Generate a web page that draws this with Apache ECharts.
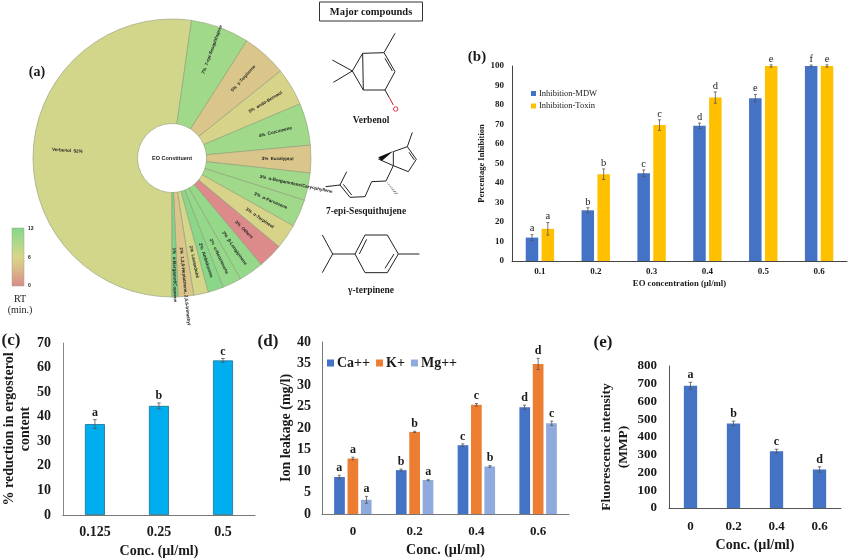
<!DOCTYPE html>
<html><head><meta charset="utf-8">
<style>html,body{margin:0;padding:0;background:#fff}#c{width:850px;height:559px}</style>
<script src="https://cdn.jsdelivr.net/npm/echarts@6/dist/echarts.min.js"></script>
</head><body><div id="c"></div>
<script>
// ---------- data ----------
const pieNames = ['Verbenol','7-epi-Sesquithujene','γ-Terpinene','endo-Borneol','Curcumene','Eucalyptol','α-Bergamotene/Caryophyllene','α-Farnesene','α-Terpineol','Others','β-Longipinene','α-Neoclovene','Ambiducene','Lavandulol','1,3,6-Heptatriene, 2,5,6-trimethyl','α-Bergamot/Copaene'];
const pieShare = [52.3,6.8,5.2,4.4,4.9,3.2,3.2,3.2,2.9,2.9,2.9,2.2,1.8,1.7,1.8,0.7];
const piePct   = [52,7,5,5,4,3,3,3,3,3,3,2,2,2,2,1];
const pieRT    = [6.8,10,4.2,6.2,10,4.2,10,10,6.2,0,11,11,12,6.6,4,13];

const bCats = ['0.1','0.2','0.3','0.4','0.5','0.6'];
const bMDW  = [12,26,45,69.3,83.5,100];
const bMDWErr = [1.5,1.3,1.7,1.4,1.9,0.5];
const bMDWLetters = ['a','b','c','d','e','f'];
const bToxin = [16.5,44.5,69.7,83.8,100,100];
const bToxinErr = [3.2,2.7,2.7,2.9,0.6,0.6];
const bToxinLetters = ['a','b','c','d','e','e'];

const cCats = ['0.125','0.25','0.5'];
const cVals = [37,44.4,62.9];
const cErr = [1.8,1.2,0.8];
const cLetters = ['a','b','c'];

const dCats = ['0','0.2','0.4','0.6'];
const dCa = [8.6,10.2,16,24.8];
const dCaErr = [0.4,0.25,0.3,0.5];
const dCaLetters = ['a','b','c','d'];
const dK = [12.9,19.1,25.4,34.9];
const dKErr = [0.3,0.15,0.3,1.3];
const dKLetters = ['a','b','c','d'];
const dMg = [3.3,7.9,11.05,21.1];
const dMgErr = [0.8,0.15,0.2,0.5];
const dMgLetters = ['a','a','b','c'];

const eCats = ['0','0.2','0.4','0.6'];
const eVals = [689,476,320,217];
const eErr = [19,13,11,15];
const eLetters = ['a','b','c','d'];

// ---------- style ----------
const SERIF = '"Liberation Serif","Times New Roman",serif';
const SANS = '"Liberation Sans",Arial,sans-serif';
const INK = '#1a1a1a';
const BLUE='#4472c4', GOLD='#ffc000', ORANGE='#ed7d31', LIGHT='#8faadc', SKY='#00aeef';

function errSeries(grid, values, errs, letters, off, cap, font, gap, weight){
  return {
    type:'custom', xAxisIndex:grid, yAxisIndex:grid, silent:true, clip:false, z:5,
    data: values.map((v,i)=>[i,v,errs[i]]),
    renderItem(p, api){
      const i=api.value(0), v=api.value(1), e=api.value(2);
      const a=api.coord([i,v-e]), b=api.coord([i,v+e]);
      const x=a[0]+off, st={stroke:'#555',lineWidth:0.8};
      return {type:'group',children:[
        {type:'line',shape:{x1:x,y1:a[1],x2:x,y2:b[1]},style:st},
        {type:'line',shape:{x1:x-cap,y1:b[1],x2:x+cap,y2:b[1]},style:st},
        {type:'line',shape:{x1:x-cap,y1:a[1],x2:x+cap,y2:a[1]},style:st},
        {type:'text',style:{x:x,y:b[1]-gap,text:letters[i],align:'center',verticalAlign:'bottom',
          fill:INK,font:weight+' '+font+'px '+SERIF}}
      ]};
    }
  };
}
function bar(grid,name,vals,color,width,gapStr,extra){
  return Object.assign({type:'bar',name,xAxisIndex:grid,yAxisIndex:grid,data:vals,barWidth:width,barGap:gapStr,
    itemStyle:{color},silent:true},extra||{});
}
function xAx(grid,cats,name,font,margin,nameFont,nameGap,lineColor,lw){
  return {type:'category',gridIndex:grid,data:cats,name,nameLocation:'middle',nameGap,
    nameTextStyle:{fontFamily:SERIF,fontWeight:'bold',fontSize:nameFont,color:INK},
    axisTick:{show:false},axisLine:{lineStyle:{color:lineColor,width:lw}},
    axisLabel:{interval:0,fontFamily:SERIF,fontWeight:'bold',fontSize:font,color:INK,margin}};
}
function yAx(grid,max,step,name,font,margin,nameFont,nameGap,lineColor,lw,pad,lh){
  return {type:'value',gridIndex:grid,min:0,max,interval:step,name,nameLocation:'middle',nameGap,
    nameTextStyle:{fontFamily:SERIF,fontWeight:'bold',fontSize:nameFont,color:INK,padding:pad||0,lineHeight:lh||undefined},
    splitLine:{show:false},axisTick:{show:false},
    axisLine:{show:true,lineStyle:{color:lineColor,width:lw}},
    axisLabel:{fontFamily:SERIF,fontWeight:'bold',fontSize:font,color:INK,margin}};
}

// ---------- chemical structure sketches (illustration, crop units) ----------
const SX=z=>300+z/3, SY=z=>z/3;
const bonds = [
  // verbenol
  [[188,160],[252,158],[285,215],[255,270],[190,270],[157,213],[188,160],[190,270]],
  [[252,158],[285,100]],[[157,213],[97,180]],[[157,213],[100,247]],[[255,175],[277,213]],[[255,270],[268,293]],
  // 7-epi-sesquithujene
  [[280,455],[322,440],[349,478],[325,515],[280,497],[280,455]],[[322,440],[337,397]],[[327,457],[343,480]],
  [[235,477],[280,497]],[[280,497],[258,543],[215,545],[195,590],[150,592],[120,555],[77,560]],[[120,555],[140,515]],[[130,553],[155,585]],
  // gamma-terpinene
  [[165,762],[195,705],[262,705],[295,762],[262,818],[195,818],[165,762]],[[178,762],[200,718]],[[282,762],[255,805]],
  [[295,762],[358,762]],[[165,762],[98,762],[67,705]],[[98,762],[67,818]]
];
const structureGraphics = bonds.map(b=>({type:'polyline',silent:true,shape:{points:b.map(p=>[SX(p[0]),SY(p[1])])},
  style:{stroke:'#222',lineWidth:1,fill:null}}));
structureGraphics.push(
  {type:'line',silent:true,shape:{x1:SX(268),y1:SY(293),x2:SX(280),y2:SY(315)},style:{stroke:'#d6202c',lineWidth:1}},
  {type:'circle',silent:true,shape:{cx:SX(287),cy:SY(327),r:2.2},style:{stroke:'#d6202c',lineWidth:0.9,fill:'#fff'}},
  {type:'polygon',silent:true,shape:{points:[[SX(280),SY(453)],[SX(235),SY(472)],[SX(245),SY(483)]]},style:{fill:'#111'}}
);
for(let i=0;i<7;i++){ const t=(i+1)/7, x=258+30*t, y=543+37*t, w=1+10*t;
  structureGraphics.push({type:'line',silent:true,shape:{x1:SX(x-w/2),y1:SY(y),x2:SX(x+w/2),y2:SY(y)},style:{stroke:'#222',lineWidth:0.5}});
}
const txt=(x,y,text,font,extra)=>({type:'text',silent:true,x,y,style:Object.assign({text,font,fill:INK,align:'center',verticalAlign:'middle'},extra||{})});
const CMP='bold 9.5px '+SERIF;
const graphics = [
  {type:'rect',silent:true,shape:{x:319.5,y:2,width:103,height:19},style:{stroke:'#333',lineWidth:1,fill:'#fff'}},
  txt(371,12,'Major compounds','bold 10.5px '+SERIF),
  txt(371,121,'Verbenol',CMP), txt(366,212,'7-epi-Sesquithujene',CMP), txt(371,291,'γ-terpinene',CMP),
  txt(37,72,'(a)','bold 14px '+SERIF), txt(477,57,'(b)','bold 15px '+SERIF), txt(11,341,'(c)','bold 17px '+SERIF), txt(268,342,'(d)','bold 17px '+SERIF), txt(603,343,'(e)','bold 17px '+SERIF),
  txt(172,158,'EO Constituent','bold 5.5px '+SANS),
  {type:'rect',silent:true,shape:{x:12,y:228,width:12,height:58},style:{stroke:'#9aa58a',lineWidth:0.5,
    fill:{type:'linear',x:0,y:0,x2:0,y2:1,colorStops:[{offset:0,color:'#84d68a'},{offset:0.3,color:'#b5d98a'},{offset:0.5,color:'#d9d688'},{offset:0.72,color:'#dcb88a'},{offset:1,color:'#d98a8a'}]}}},
  txt(28,229,'13','bold 5px '+SANS,{align:'left'}), txt(28,258,'6','bold 5px '+SANS,{align:'left'}), txt(28,286,'0','bold 5px '+SANS,{align:'left'}),
  txt(20,299,'RT','10px '+SERIF), txt(20,310,'(min.)','10px '+SERIF)
].concat(structureGraphics);

// ---------- option ----------
const pieData = pieNames.map((n,i)=>({name:n,value:[pieShare[i],pieRT[i]]}));
const series = [
 {type:'pie',center:[172,158],radius:[34.5,139],startAngle:270,clockwise:true,silent:true,
  dimensions:['share','rt'],encode:{value:'share',itemName:-1},
  data:pieData,minAngle:0,minShowLabelAngle:0,avoidLabelOverlap:false,
  itemStyle:{borderColor:'#8e9c78',borderWidth:0.6},
  label:{show:true,position:'inside',rotate:'radial',overflow:'none',fontFamily:SANS,fontWeight:'bold',fontSize:4.5,color:'#222',
    formatter:p=>{const i=p.dataIndex; return i===0? pieNames[i]+'  '+piePct[i]+'%' : piePct[i]+'%  '+pieNames[i];}},
  labelLayout:p=>({align:p.dataIndex===0?'right':'left'}),
  labelLine:{show:false}
 },
 bar(0,'Inhibition-MDW',bMDW,BLUE,12.5,'27%'),
 bar(0,'Inhibition-Toxin',bToxin,GOLD,12.5,'27%'),
 errSeries(0,bMDW,bMDWErr,bMDWLetters,-7.9,1.5,10.5,0.5,'normal'),
 errSeries(0,bToxin,bToxinErr,bToxinLetters,7.9,1.5,10.5,0.5,'normal'),
 bar(1,'Reduction',cVals,SKY,20,'0%',{itemStyle:{color:SKY,borderColor:'#1d6f8c',borderWidth:0.8}}),
 errSeries(1,cVals,cErr,cLetters,0,1.8,12,1,'bold'),
 bar(2,'Ca++',dCa,BLUE,10.7,'25%'),
 bar(2,'K+',dK,ORANGE,10.7,'25%'),
 bar(2,'Mg++',dMg,LIGHT,10.7,'25%'),
 errSeries(2,dCa,dCaErr,dCaLetters,-13.6,1.5,12,1.5,'bold'),
 errSeries(2,dK,dKErr,dKLetters,0,1.5,12,1.5,'bold'),
 errSeries(2,dMg,dMgErr,dMgLetters,13.6,1.5,12,1.5,'bold'),
 bar(3,'MMP',eVals,BLUE,13.3,'0%'),
 errSeries(3,eVals,eErr,eLetters,0,1.8,12,1,'bold')
];
const option = {
 animation:false, backgroundColor:'#fff',
 grid:[
  {left:512,width:335,top:66,height:195},
  {left:60,width:195,top:343,height:172},
  {left:322,width:247,top:342,height:172},
  {left:669,width:172,top:366,height:142}
 ],
 xAxis:[
  xAx(0,bCats,'EO concentration (µl/ml)',9,6,8.7,18,'#444',1),
  xAx(1,cCats,'Conc. (µl/ml)',14,10,14,29,'#777',1),
  xAx(2,dCats,'Conc. (µl/ml)',13,11,14,29,'#777',1),
  xAx(3,eCats,'Conc. (µl/ml)',13,12,14,30,'#555',1)
 ],
 yAxis:[
  yAx(0,100,10,'Percentage Inhibition',9,8,8.5,21,'#444',1),
  yAx(1,70,10,'% reduction in ergosterol\ncontent',14,12,14,18,'#888',1,0,16),
  yAx(2,40,5,'Ion leakage (mg/l)',14,11,14,26,'#777',1),
  yAx(3,800,100,'Fluorescence intensity\n(MMP)',13,12,13.5,37,'#555',1,[0,20,0,0],17)
 ],
 legend:[
  {data:['Inhibition-MDW','Inhibition-Toxin'],orient:'vertical',left:526,top:84,itemWidth:5,itemHeight:5,itemGap:3.5,icon:'rect',
   selectedMode:false,textStyle:{fontFamily:SERIF,fontSize:8.5,color:INK,padding:[0,0,0,-2]}},
  {data:['Ca++','K+','Mg++'],orient:'horizontal',left:322,top:351,itemWidth:7,itemHeight:7,itemGap:6,icon:'rect',
   selectedMode:false,textStyle:{fontFamily:SERIF,fontWeight:'bold',fontSize:14,color:INK,padding:[0,0,0,-2]}}
 ],
 visualMap:{type:'continuous',show:false,seriesIndex:0,dimension:1,min:0,max:13,
  inRange:{color:['#dc8a8a','#dcc08a','#d6d68a','#a3d98a','#7fd68a']}},
 graphic:graphics,
 series
};
const chart = echarts.init(document.getElementById('c'),null,{renderer:'canvas'});
chart.setOption(option);
</script></body></html>
